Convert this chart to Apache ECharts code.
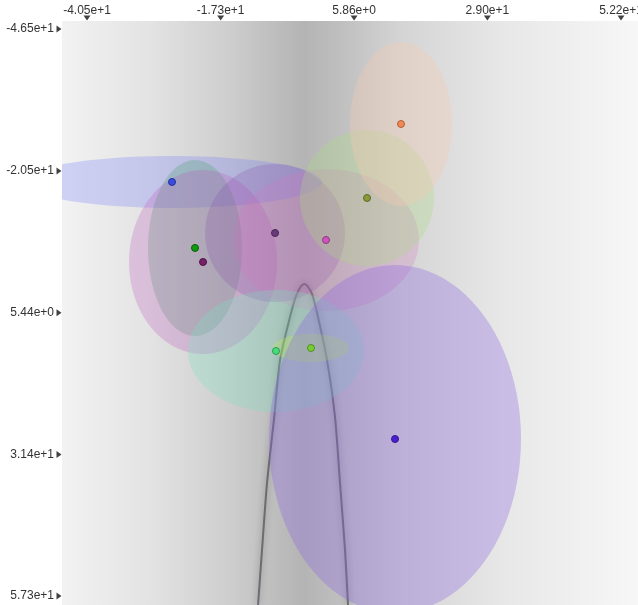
<!DOCTYPE html>
<html>
	<head>
		<meta charset="UTF-8">
		<title>mixture</title>
		<script src="https://cdn.jsdelivr.net/npm/echarts@6/dist/echarts.min.js"></script>
		<style>
			html, body { margin: 0; padding: 0; background: #fff; }
			#main { width: 638px; height: 605px; }
		</style>
	</head>
	<body>
		<div id="main"></div>
		<script>
			// tick positions of the two axes
			var xTicks = [-40.5, -17.3, 5.86, 29.0, 52.2];
			var yTicks = [-46.5, -20.5, 5.44, 31.4, 57.3];

			// components: mean, semi axes
			var compX = [-25.74, -21.75, -20.36, -7.86, 0.99, 8.11, 14.01, -7.69, -1.61, 12.97];
			var compY = [-18.49, -6.41, -3.84, -9.15, -7.87, -15.56, -29.11, 12.45, 11.9, 28.56];
			var compRx = [26.0, 8.16, 12.85, 12.15, 16.14, 11.63, 8.85, 15.28, 6.6, 21.87];
			var compRy = [4.76, 16.11, 16.84, 12.63, 13.0, 12.45, 15.01, 11.17, 2.56, 31.85];

			// the dark ridge of the background
			var ridgeX = [-10.81, -10.12, -9.25, -8.0, -6.99, -5.26, -4.22, -3.35, -2.75, -2.2, -1.44, -0.40, 1.16, 2.55, 3.42, 4.29, 4.81];
			var ridgeY = [58.95, 48.88, 36.61, 24.53, 14.1, 6.22, 2.4, 0.6, 0.2, 0.6, 2.0, 6.22, 14.1, 24.53, 36.61, 48.88, 58.95];

			var fillColors = [
				'rgba(118,125,252,0.28)', 'rgba(60,160,100,0.26)', 'rgba(187,80,187,0.25)',
				'rgba(130,80,170,0.25)', 'rgba(210,120,190,0.25)', 'rgba(172,219,128,0.30)',
				'rgba(247,200,175,0.33)', 'rgba(121,228,195,0.28)', 'rgba(190,240,80,0.30)',
				'rgba(140,100,226,0.33)'
			];
			var dotColors = ['#3a4be0', '#119911', '#7a1f6a', '#6a3a7a', '#cc55bb',
				'#8a9a3a', '#ee8855', '#44dd77', '#77cc33', '#4a1fd0'];
			var dotBorders = ['#26309a', '#0b5e0b', '#4e1244', '#472650', '#8e3a82',
				'#5f6b26', '#b3623a', '#2e9a52', '#528f22', '#33158f'];

			var xMin = -44.84, xMax = 55.15, yMin = -47.96, yMax = 58.95;

			var myChart = echarts.init(document.getElementById('main'));

			var ellData = [];
			var dotData = [];
			for (var i = 0; i < compX.length; i++) {
				ellData.push([compX[i], compY[i], compRx[i], compRy[i]]);
				dotData.push({
					value: [compX[i], compY[i]],
					itemStyle: { color: dotColors[i], borderColor: dotBorders[i] }
				});
			}
			var ridgeData = [];
			for (var j = 0; j < ridgeX.length; j++) {
				ridgeData.push([ridgeX[j], ridgeY[j]]);
			}

			var xTickMarks = xTicks.map(function(v) { return [v, yMin]; });
			var yTickMarks = yTicks.map(function(v) { return [xMin, v]; });

			function renderEllipse(params, api) {
				var cx = api.value(0), cy = api.value(1);
				var rx = api.value(2), ry = api.value(3);
				var pts = [];
				for (var k = 0; k < 96; k++) {
					var t = k / 96 * Math.PI * 2;
					pts.push(api.coord([cx + rx * Math.cos(t), cy + ry * Math.sin(t)]));
				}
				return {
					type: 'polygon',
					shape: { points: pts },
					style: { fill: fillColors[params.dataIndex], stroke: null }
				};
			}

			var labelFont = { fontFamily: 'Liberation Sans', fontSize: 12, color: '#333' };

			var option = {
				animation: false,
				grid: {
					left: 62, top: 21, right: 0, bottom: 0,
					containLabel: false,
					outerBoundsMode: 'none',
					show: true,
					borderWidth: 0,
					backgroundColor: {
						type: 'linear', x: 0, y: 0, x2: 1, y2: 0,
						colorStops: [
							{ offset: 0, color: '#f2f2f2' },
							{ offset: 0.153, color: '#e3e3e3' },
							{ offset: 0.29, color: '#cecece' },
							{ offset: 0.378, color: '#bcbcbc' },
							{ offset: 0.42, color: '#b4b4b4' },
							{ offset: 0.483, color: '#bfbfbf' },
							{ offset: 0.587, color: '#d4d4d4' },
							{ offset: 0.76, color: '#e7e7e7' },
							{ offset: 1, color: '#f7f7f7' }
						]
					}
				},
				xAxis: {
					type: 'value', position: 'top',
					min: xMin, max: xMax,
					axisLine: { show: false },
					axisTick: { show: false },
					splitLine: { show: false },
					axisLabel: Object.assign({
						margin: 4,
						customValues: xTicks,
						formatter: function(v) { return v.toExponential(2); }
					}, labelFont)
				},
				yAxis: {
					type: 'value', inverse: true,
					min: yMin, max: yMax,
					axisLine: { show: false },
					axisTick: { show: false },
					splitLine: { show: false },
					axisLabel: Object.assign({
						margin: 8,
						customValues: yTicks,
						formatter: function(v) { return v.toExponential(2); }
					}, labelFont)
				},
				series: [{
					type: 'line',
					data: ridgeData,
					smooth: 0.25,
					symbol: 'none',
					z: 1,
					lineStyle: {
						color: 'rgba(60,60,70,0.6)', width: 2,
						shadowBlur: 6, shadowColor: 'rgba(40,40,40,0.7)'
					}
				}, {
					type: 'custom',
					data: ellData,
					clip: true,
					z: 2,
					renderItem: renderEllipse
				}, {
					type: 'scatter',
					data: dotData,
					symbolSize: 7,
					z: 3,
					itemStyle: { borderWidth: 1, opacity: 1 }
				}, {
					type: 'scatter',
					data: xTickMarks,
					symbol: 'triangle',
					symbolSize: [7, 5],
					symbolRotate: 180,
					symbolOffset: [0, -3],
					clip: false,
					silent: true,
					itemStyle: { color: '#111' }
				}, {
					type: 'scatter',
					data: yTickMarks,
					symbol: 'triangle',
					symbolSize: [7, 5],
					symbolRotate: -90,
					symbolOffset: [-3, 0],
					clip: false,
					silent: true,
					itemStyle: { color: '#111' }
				}]
			};
			myChart.setOption(option);
		</script>
	</body>
</html>
